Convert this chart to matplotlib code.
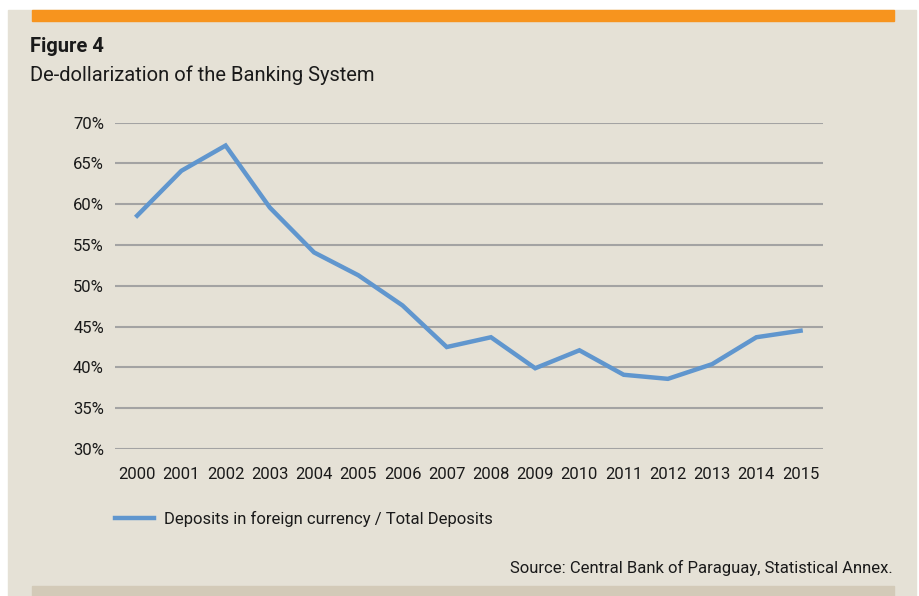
import matplotlib
matplotlib.use("Agg")
import matplotlib.pyplot as plt
from matplotlib.patches import Rectangle
from matplotlib.ticker import FuncFormatter

# share of foreign-currency deposits in total deposits (%)
years = [str(y) for y in range(2000, 2016)]
share = [58.6, 64.1, 67.2, 59.6, 54.1, 51.3, 47.6, 42.5,
         43.7, 39.9, 42.1, 39.1, 38.6, 40.4, 43.7, 44.5]
yticks = [30, 35, 40, 45, 50, 55, 60, 65, 70]

plt.rcParams["font.family"] = ["Roboto", "DejaVu Sans"]

W, H = 919, 596
fig = plt.figure(figsize=(W / 100, H / 100), dpi=100, facecolor="white")

def box(x0, y0, x1, y1, color):
    # rectangle given in pixel coords from the top-left corner
    fig.patches.append(Rectangle((x0 / W, 1 - y1 / H), (x1 - x0) / W, (y1 - y0) / H,
                                 transform=fig.transFigure, color=color, zorder=-5))

box(8, 10, 916, 596, "#E5E1D6")
box(32, 10, 894, 21, "#F7941E")
box(32, 586, 894, 596, "#D3CAB8")

ax = fig.add_axes([115 / W, 1 - 449 / H, 707.7 / W, (449 - 122.7) / H])
ax.set_facecolor("none")
line, = ax.plot(range(len(years)), share, color="#6096CE", lw=3.2,
                solid_joinstyle="miter", zorder=3)
ax.set_xlim(-0.5, len(years) - 0.5)
ax.set_ylim(30, 70)
ax.set_yticks(yticks)
ax.yaxis.set_major_formatter(FuncFormatter(lambda v, p: f"{v:.0f}%"))
ax.set_xticks(range(len(years)))
ax.set_xticklabels(years)
ax.grid(axis="y", color="#A3A3A3", lw=1.5)
ax.set_axisbelow(True)
for s in ax.spines.values():
    s.set_visible(False)
ax.tick_params(length=0, labelsize=12, labelcolor="#1a1a1a")
ax.tick_params(axis="y", pad=8)
ax.tick_params(axis="x", pad=13)

fig.text(30 / W, 1 - 47 / H, "Figure 4", fontsize=14.5, fontweight="bold",
         color="#1a1a1a", va="center")
fig.text(30 / W, 1 - 75 / H, "De-dollarization of the Banking System",
         fontsize=14.5, color="#1a1a1a", va="center")

leg = fig.legend([line], ["Deposits in foreign currency / Total Deposits"],
                 loc="center left", bbox_to_anchor=(100 / W, 1 - 519 / H),
                 frameon=False, fontsize=12, handlelength=2.35, handletextpad=0.6)
for t in leg.get_texts():
    t.set_color("#1a1a1a")

fig.text(893 / W, 1 - 568 / H, "Source: Central Bank of Paraguay, Statistical Annex.",
         fontsize=12, color="#1a1a1a", ha="right", va="center")

fig.savefig("out.png", dpi=100, facecolor=fig.get_facecolor())
